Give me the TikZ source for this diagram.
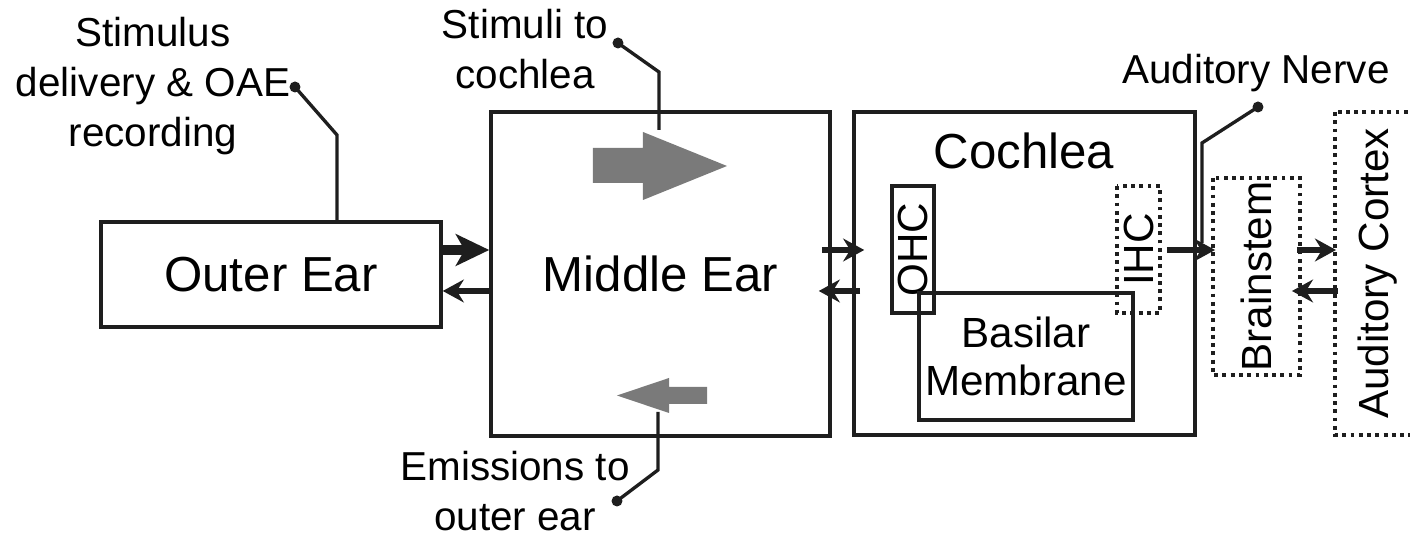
\documentclass[tikz,border=0pt]{standalone}
\usepackage{fontspec}
\setmainfont{Liberation Sans}
\usetikzlibrary{arrows.meta, positioning, calc}
\definecolor{earink}{HTML}{1E1E1E}
\definecolor{eargrey}{HTML}{7A7A7A}

\begin{document}
\begin{tikzpicture}[
      box/.style={draw=earink, line width=1pt, inner sep=0pt, align=center, font=\fontsize{14}{17}\selectfont},
      dotbox/.style={box, line width=1.1pt, dash pattern=on 1.1pt off 1.25pt},
      side/.style={rotate=90, font=\fontsize{12}{14}\selectfont},
      note/.style={align=center, inner sep=0pt, font=\fontsize{11.5}{14.2}\selectfont},
      lead/.style={draw=earink, line width=0.95pt},
      bigarr/.style={-{Stealth[length=9.5pt, width=9pt, inset=2.5pt]}, line width=2.6pt, earink},
      arr/.style={-{Stealth[length=6pt, width=6.5pt, inset=2pt]}, line width=1.8pt, earink}]
      \clip (0,0) rectangle (14.1,5.37);
      % blocks
      \node[box, minimum width=3.40cm, minimum height=1.05cm] (outer) at (2.71,2.625) {Outer Ear};
      \node[box, minimum width=3.39cm, minimum height=3.24cm] (middle) at (6.605,2.63) {Middle Ear};
      \node[box, minimum width=3.41cm, minimum height=3.23cm] (cochlea) at (10.245,2.635) {};
      \node[inner sep=0pt, font=\fontsize{14}{17}\selectfont] (cochtxt) at (10.24,3.86) {Cochlea};
      \node[box, side, minimum width=1.27cm, minimum height=0.42cm] (ohc) at (9.13,2.875) {OHC};
      \node[dotbox, side, minimum width=1.27cm, minimum height=0.43cm] (ihc) at (11.385,2.875) {IHC};
      \node[box, minimum width=2.14cm, minimum height=1.27cm, font=\fontsize{12}{13.5}\selectfont] (basilar) at (10.26,1.805) {Basilar\\Membrane};
      \node[dotbox, side, minimum width=1.97cm, minimum height=0.87cm] (brain) at (12.565,2.605) {Brainstem};
      \node[dotbox, side, minimum width=3.23cm, minimum height=0.85cm] (cortex) at (13.775,2.635) {Auditory Cortex};
      % rows of the black arrows
      \coordinate (rowA) at (0,2.87);
      \coordinate (rowB) at (0,2.46);
      \draw[bigarr] (outer.east |- rowA) -- (middle.west |- rowA);
      \draw[arr] (middle.west |- rowB) -- (outer.east |- rowB);
      \draw[arr] ($(middle.east |- rowA)+(-0.1,0)$) -- ($(cochlea.west |- rowA)+(0.12,0)$);
      \draw[arr] ($(cochlea.west |- rowB)+(0.08,0)$) -- ($(middle.east |- rowB)+(-0.13,0)$);
      \draw[arr] ($(ihc.south |- rowA)+(0.05,0)$) -- ($(brain.north |- rowA)+(0.04,0)$);
      \draw[arr] ($(brain.south |- rowA)+(-0.05,0)$) -- ($(cortex.north |- rowA)+(0.03,0)$);
      \draw[arr] ($(cortex.north |- rowB)+(0.05,0)$) -- ($(brain.south |- rowB)+(-0.1,0)$);
      % grey flow arrows in the middle ear
      \fill[eargrey] (5.93,3.89) -- (6.43,3.89) -- (6.43,4.05) -- (7.27,3.71) -- (6.43,3.37) -- (6.43,3.54) -- (5.93,3.54) -- cycle;
      \fill[eargrey] (7.07,1.50) -- (6.69,1.50) -- (6.69,1.59) -- (6.17,1.415) -- (6.69,1.24) -- (6.69,1.33) -- (7.07,1.33) -- cycle;
      % labels and their pins
      \node[note] (stimlbl) at (1.53,4.51) {Stimulus\\delivery \& OAE\\recording};
      \node[note] (cochlbl) at (5.25,4.88) {Stimuli to\\cochlea};
      \node[note] (emislbl) at (5.15,0.455) {Emissions to\\outer ear};
      \node[note] (nervelbl) at (12.56,4.635) {Auditory Nerve};
      \coordinate (sdot) at (2.95,4.50);  \coordinate (sbend) at (3.37,4.02);
      \coordinate (cdot) at (6.18,4.94);  \coordinate (cbend) at (6.59,4.65);  \coordinate (ctip) at (6.59,4.07);
      \coordinate (edot) at (6.17,0.36);  \coordinate (ebend) at (6.58,0.67);  \coordinate (etip) at (6.58,1.25);
      \coordinate (ndot) at (12.58,4.30); \coordinate (nbend) at (12.02,3.94);
      \draw[lead] (sdot) -- (sbend) -- (sbend |- outer.north);
      \draw[lead] (cdot) -- (cbend) -- (ctip);
      \draw[lead] (edot) -- (ebend) -- (etip);
      \draw[lead] (ndot) -- (nbend) -- ($(nbend |- rowA)+(0,0.07)$);
      \foreach \p in {sdot, cdot, edot, ndot} \fill[earink] (\p) circle (0.055);
    \end{tikzpicture}
\end{document}
